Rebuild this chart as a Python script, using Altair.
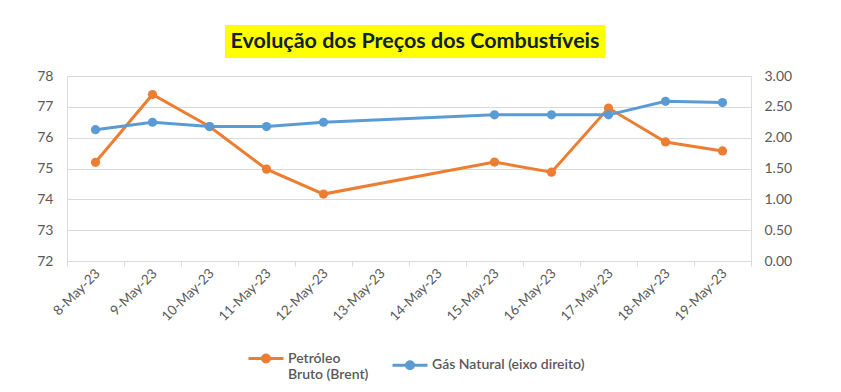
import altair as alt
import pandas as pd

dates = ["8-May-23", "9-May-23", "10-May-23", "11-May-23", "12-May-23", "13-May-23",
         "14-May-23", "15-May-23", "16-May-23", "17-May-23", "18-May-23", "19-May-23"]
trade_dates = ["8-May-23", "9-May-23", "10-May-23", "11-May-23", "12-May-23",
               "15-May-23", "16-May-23", "17-May-23", "18-May-23", "19-May-23"]
brent = [75.20, 77.40, 76.36, 74.98, 74.17, 75.21, 74.88, 76.96, 75.86, 75.57]
gas = [2.13, 2.25, 2.18, 2.18, 2.25, 2.37, 2.37, 2.37, 2.59, 2.57]
series_names = ["Petróleo Bruto (Brent)", "Gás Natural (eixo direito)"]
colors = ["#ED7D31", "#5B9BD5"]
left_ticks = [72, 73, 74, 75, 76, 77, 78]
right_ticks = [0, 0.5, 1.0, 1.5, 2.0, 2.5, 3.0]
title_text = "Evolução dos Preços dos Combustíveis"

df = pd.DataFrame({
    "date": trade_dates + trade_dates,
    "value": brent + gas,
    "series": [series_names[0]] * len(brent) + [series_names[1]] * len(gas),
})

FONT = "Lato"
GREY = "#595959"

xenc = alt.X("date:N", scale=alt.Scale(domain=dates, type="band", paddingInner=0, paddingOuter=0),
             axis=alt.Axis(title=None, labelAngle=-45, labelAlign="right", labelBaseline="middle",
                           tickBand="extent", domainColor="#d9d9d9", tickColor="#d9d9d9",
                           tickSize=5, labelColor=GREY, labelFontSize=13.5, labelFont=FONT,
                           labelPadding=5, labelOffset=2, grid=False))

color = alt.Color("series:N", scale=alt.Scale(domain=series_names, range=colors),
                  legend=alt.Legend(title=None, orient="none", direction="horizontal",
                                    legendX=180, legendY=263.5,
                                    symbolType="M-1,0H1M-0.2,0A0.2,0.2,0,1,1,0.2,0A0.2,0.2,0,1,1,-0.2,0Z",
                                    symbolSize=1225, symbolStrokeWidth=3,
                                    labelFont=FONT, labelFontSize=14, labelColor=GREY,
                                    labelFontWeight=600,
                                    columnPadding=17, labelOffset=3,
                                    labelExpr="datum.label == 'Petróleo Bruto (Brent)' ? ['Petróleo', 'Bruto (Brent)'] : datum.label"))

base = alt.Chart(df)
left = base.transform_filter(alt.datum.series == series_names[0]).mark_line(
    strokeWidth=3, point=alt.OverlayMarkDef(size=85, filled=True)).encode(
    x=xenc,
    y=alt.Y("value:Q", scale=alt.Scale(domain=[72, 78], nice=False, zero=False),
            axis=alt.Axis(title=None, values=left_ticks, orient="left", grid=True, gridColor="#d9d9d9",
                          domain=False, ticks=False, labelColor=GREY, labelFontSize=14, labelFont=FONT,
                          labelPadding=14)),
    color=color,
)
right = base.transform_filter(alt.datum.series == series_names[1]).mark_line(
    strokeWidth=3, point=alt.OverlayMarkDef(size=85, filled=True)).encode(
    x=xenc,
    y=alt.Y("value:Q", scale=alt.Scale(domain=[0, 3], nice=False),
            axis=alt.Axis(title=None, values=right_ticks, orient="right", grid=False, format=".2f",
                          domain=False, ticks=False, labelColor=GREY, labelFontSize=14, labelFont=FONT,
                          labelPadding=13)),
    color=color,
)

tdf = pd.DataFrame({"t": [title_text]})
title_bg = alt.Chart(tdf).mark_rect(color="#FFFF00").encode(
    x=alt.value(158), x2=alt.value(538), y=alt.value(-51), y2=alt.value(-18))
title = alt.Chart(tdf).mark_text(font=FONT, fontSize=21.5, fontWeight="bold", color="#0F2236",
                                 baseline="middle", align="center").encode(
    text="t:N", x=alt.value(348), y=alt.value(-34))

chart = alt.layer(left, right, title_bg, title).resolve_scale(y="independent").properties(
    width=684, height=185, autosize=alt.AutoSizeParams(type="none"),
    padding={"left": 59, "top": 68, "right": 82, "bottom": 123},
).configure_view(stroke=None).configure(background="white")

chart.save("out.html", embed_options={"renderer": "svg", "actions": False})
